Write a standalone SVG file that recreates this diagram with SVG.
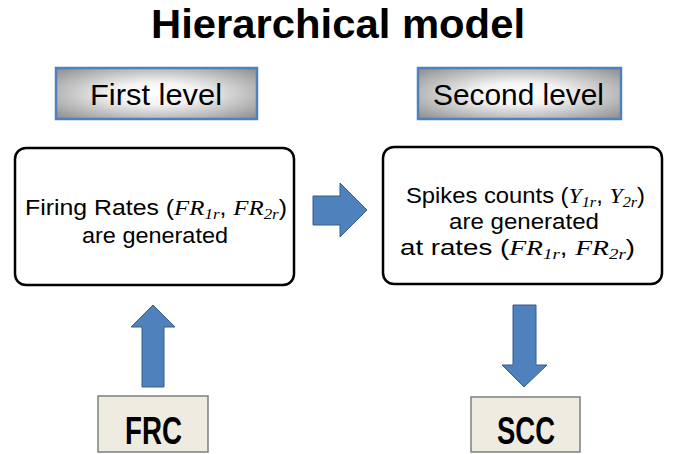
<svg xmlns="http://www.w3.org/2000/svg" width="678" height="454" viewBox="0 0 678 454">
<defs>
<radialGradient id="lvl" cx="0.5" cy="0.5" r="0.71">
<stop offset="0" stop-color="#ffffff"/>
<stop offset="0.3" stop-color="#f4f4f4"/>
<stop offset="1" stop-color="#8a8a8a"/>
</radialGradient>
<style>
.title{font-family:"Liberation Sans",Arial,sans-serif;font-weight:bold;font-size:40px;fill:#000}
.lvlbox{fill:url(#lvl);stroke:#4f81bd;stroke-width:2.5}
.lvltxt{font-family:"Liberation Sans",Arial,sans-serif;font-size:30px;fill:#000}
.box{fill:#fff;stroke:#000;stroke-width:2.5}
.txt{font-family:"Liberation Sans",Arial,sans-serif;font-size:22px;fill:#000}
.m{font-family:"Liberation Serif","Times New Roman",serif;font-style:italic}
.s{font-size:15px}
.arrow{fill:#4f81bd;stroke:#385d8a;stroke-width:1}
.cbox{fill:#eeece1;stroke:#7f7f7f;stroke-width:1.5}
.ctxt{font-family:"Liberation Sans",Arial,sans-serif;font-weight:bold;font-size:39px;fill:#000}
</style>
</defs>
<text class="title" x="151" y="38" textLength="374" lengthAdjust="spacingAndGlyphs">Hierarchical model</text>

<g id="first-level">
<rect class="lvlbox" x="56" y="68" width="201" height="51"/>
<text class="lvltxt" x="90" y="105" textLength="132" lengthAdjust="spacingAndGlyphs">First level</text>
</g>
<g id="second-level">
<rect class="lvlbox" x="418" y="68" width="203" height="51"/>
<text class="lvltxt" x="433" y="105" textLength="171" lengthAdjust="spacingAndGlyphs">Second level</text>
</g>

<g id="firing-rates">
<rect class="box" x="15" y="148" width="279" height="137" rx="11"/>
<text class="txt" x="25" y="215" textLength="262" lengthAdjust="spacingAndGlyphs">Firing Rates (<tspan class="m">FR</tspan><tspan class="m s" dy="4">1r</tspan><tspan dy="-4">, </tspan><tspan class="m">FR</tspan><tspan class="m s" dy="4">2r</tspan><tspan dy="-4">)</tspan></text>
<text class="txt" x="82" y="243" textLength="146" lengthAdjust="spacingAndGlyphs">are generated</text>
</g>

<g id="spike-counts">
<rect class="box" x="383" y="147" width="279" height="137" rx="11"/>
<text class="txt" x="406" y="203" textLength="239" lengthAdjust="spacingAndGlyphs">Spikes counts (<tspan class="m">Y</tspan><tspan class="m s" dy="4">1r</tspan><tspan dy="-4">, </tspan><tspan class="m">Y</tspan><tspan class="m s" dy="4">2r</tspan><tspan dy="-4">)</tspan></text>
<text class="txt" x="449" y="229" textLength="150" lengthAdjust="spacingAndGlyphs">are generated</text>
<text class="txt" x="400" y="255" textLength="235" lengthAdjust="spacingAndGlyphs">at rates (<tspan class="m">FR</tspan><tspan class="m s" dy="4">1r</tspan><tspan dy="-4">, </tspan><tspan class="m">FR</tspan><tspan class="m s" dy="4">2r</tspan><tspan dy="-4">)</tspan></text>
</g>

<g id="frc">
<rect class="cbox" x="98" y="396" width="110" height="56"/>
<text class="ctxt" x="125" y="444" textLength="57" lengthAdjust="spacingAndGlyphs">FRC</text>
</g>
<g id="scc">
<rect class="cbox" x="471" y="397" width="109" height="55"/>
<text class="ctxt" x="497" y="444" textLength="58" lengthAdjust="spacingAndGlyphs">SCC</text>
</g>

<g id="connectors">
<path class="arrow" d="M313,196 H340 V183 L367,210 L340,237 V225 H313 Z"/>
<path class="arrow" d="M142,387 V327 H131 L153,305 L175,327 H164 V387 Z"/>
<path class="arrow" d="M513,305 H536 V365 H547 L524,387 L502,365 H513 Z"/>
</g>
</svg>
